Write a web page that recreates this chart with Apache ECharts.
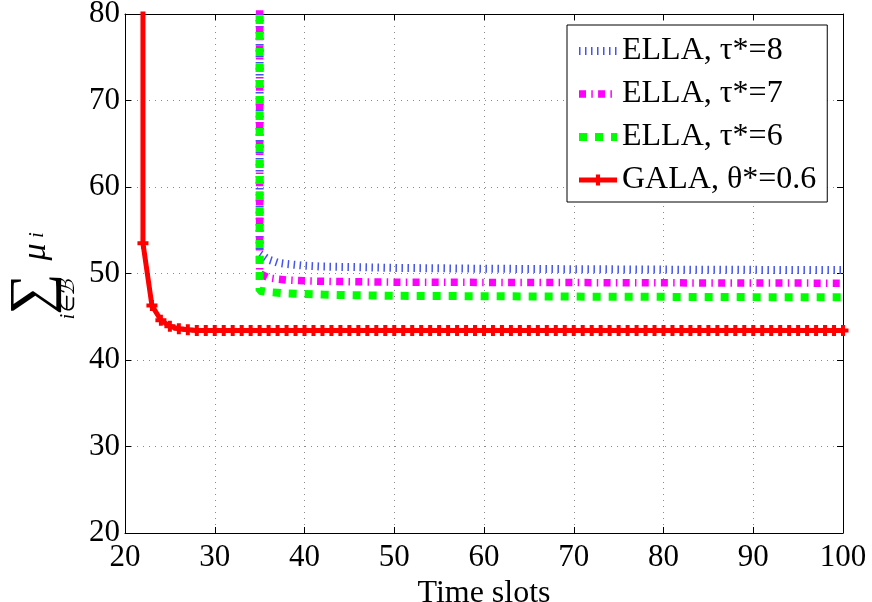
<!DOCTYPE html>
<html>
<head>
<meta charset="utf-8">
<script src="https://cdn.jsdelivr.net/npm/echarts@6/dist/echarts.min.js"></script>
<style>
  html, body { margin: 0; padding: 0; background: #fff; }
  #chart { width: 872px; height: 602px; }
</style>
</head>
<body>
<div id="chart"></div>
<script>
// ---------- data ----------
const xTicks = [20, 30, 40, 50, 60, 70, 80, 90, 100];
const yTicks = [20, 30, 40, 50, 60, 70, 80];

const ellaX = [35, 35, 36, 37, 38, 40, 42, 45, 50, 60, 70, 80, 90, 100];
const ellaTau8 = [200, 52.3, 51.6, 51.25, 51.1, 50.9, 50.8, 50.75, 50.65, 50.55, 50.5, 50.45, 50.42, 50.4];
const ellaTau7 = [200, 50.0, 49.5, 49.35, 49.25, 49.15, 49.1, 49.05, 49.0, 48.97, 48.95, 48.92, 48.9, 48.88];
const ellaTau6 = [200, 48.0, 47.85, 47.78, 47.7, 47.62, 47.56, 47.5, 47.42, 47.37, 47.33, 47.3, 47.27, 47.25];

const galaX = [22, 22, 23, 24, 25, 26, 27, 28, 29, 30,
  31, 32, 33, 34, 35, 36, 37, 38, 39, 40,
  41, 42, 43, 44, 45, 46, 47, 48, 49, 50,
  51, 52, 53, 54, 55, 56, 57, 58, 59, 60,
  61, 62, 63, 64, 65, 66, 67, 68, 69, 70,
  71, 72, 73, 74, 75, 76, 77, 78, 79, 80,
  81, 82, 83, 84, 85, 86, 87, 88, 89, 90,
  91, 92, 93, 94, 95, 96, 97, 98, 99, 100];
const galaY = [200, 53.5, 46.3, 44.6, 43.9, 43.6, 43.5, 43.42, 43.4, 43.4,
  43.4, 43.4, 43.4, 43.4, 43.4, 43.4, 43.4, 43.4, 43.4, 43.4,
  43.4, 43.4, 43.4, 43.4, 43.4, 43.4, 43.4, 43.4, 43.4, 43.4,
  43.4, 43.4, 43.4, 43.4, 43.4, 43.4, 43.4, 43.4, 43.4, 43.4,
  43.4, 43.4, 43.4, 43.4, 43.4, 43.4, 43.4, 43.4, 43.4, 43.4,
  43.4, 43.4, 43.4, 43.4, 43.4, 43.4, 43.4, 43.4, 43.4, 43.4,
  43.4, 43.4, 43.4, 43.4, 43.4, 43.4, 43.4, 43.4, 43.4, 43.4,
  43.4, 43.4, 43.4, 43.4, 43.4, 43.4, 43.4, 43.4, 43.4, 43.4];

const seriesNames = ['ELLA, τ*=8', 'ELLA, τ*=7', 'ELLA, τ*=6', 'GALA, θ*=0.6'];
const xName = 'Time slots';

// ---------- helpers ----------
function pairs(xs, ys) { return xs.map((x, i) => [x, ys[i]]); }

const SERIF = 'Liberation Serif';
const plusPath = 'path://M3.5,0h4v3.5h3.5v4h-3.5v3.5h-4v-3.5h-3.5v-4h3.5z';
const tickRich = { t: { fontFamily: SERIF, fontSize: 31, color: '#000' } };
const tickFmt = v => '{t|' + v + '}';

const chart = echarts.init(document.getElementById('chart'), null, { renderer: 'canvas' });

const baseX = {
  type: 'value', min: xTicks[0], max: xTicks[xTicks.length - 1], interval: 10
};
const baseY = {
  type: 'value', min: yTicks[0], max: yTicks[yTicks.length - 1], interval: 10
};

const option = {
  animation: false,
  backgroundColor: '#ffffff',
  textStyle: { fontFamily: SERIF },
  grid: { left: 125, right: 29, top: 14, bottom: 69, containLabel: false, outerBoundsMode: 'none' },
  xAxis: [
    Object.assign({}, baseX, {
      position: 'bottom',
      name: xName,
      nameLocation: 'middle',
      nameGap: 31,
      nameTextStyle: { fontFamily: SERIF, fontSize: 32, color: '#000' },
      axisLine: { show: true, onZero: false, lineStyle: { color: '#000', width: 1 } },
      axisTick: { show: true, inside: true, length: 6, lineStyle: { color: '#000' } },
      axisLabel: { fontFamily: SERIF, fontSize: 31, color: '#000', margin: 9, formatter: tickFmt, rich: tickRich },
      splitLine: { show: true, lineStyle: { color: '#8a8a8a', width: 1, type: [1, 5] } }
    }),
    Object.assign({}, baseX, {
      position: 'top',
      axisLine: { show: true, onZero: false, lineStyle: { color: '#000', width: 1 } },
      axisTick: { show: true, inside: true, length: 6, lineStyle: { color: '#000' } },
      axisLabel: { show: false },
      splitLine: { show: false }
    })
  ],
  yAxis: [
    Object.assign({}, baseY, {
      position: 'left',
      axisLine: { show: true, onZero: false, lineStyle: { color: '#000', width: 1 } },
      axisTick: { show: true, inside: true, length: 6, lineStyle: { color: '#000' } },
      axisLabel: { fontFamily: SERIF, fontSize: 31, color: '#000', margin: 5, formatter: tickFmt, rich: tickRich },
      splitLine: { show: true, lineStyle: { color: '#8a8a8a', width: 1, type: [1, 5] } }
    }),
    Object.assign({}, baseY, {
      position: 'right',
      axisLine: { show: true, onZero: false, lineStyle: { color: '#000', width: 1 } },
      axisTick: { show: true, inside: true, length: 6, lineStyle: { color: '#000' } },
      axisLabel: { show: false },
      splitLine: { show: false }
    })
  ],
  legend: {
    show: true,
    orient: 'vertical',
    left: 567,
    top: 25,
    padding: [8, 11, 4, 8],
    itemGap: 7,
    itemWidth: 38,
    itemHeight: 14,
    backgroundColor: '#fff',
    borderColor: '#000',
    borderWidth: 1,
    borderRadius: 0,
    textStyle: { fontFamily: SERIF, fontSize: 32, color: '#000', lineHeight: 36 },
    lineStyle: { width: 'inherit' },
    data: [
      { name: seriesNames[0], itemStyle: { opacity: 0 } },
      { name: seriesNames[1], itemStyle: { opacity: 0 } },
      { name: seriesNames[2], itemStyle: { opacity: 0 } },
      { name: seriesNames[3] }
    ]
  },
  series: [
    {
      name: seriesNames[0], type: 'line', xAxisIndex: 0, yAxisIndex: 0,
      data: pairs(ellaX, ellaTau8), symbol: 'none', smooth: false,
      lineStyle: { color: '#4555ec', width: 8, type: [1.5, 4.5], cap: 'butt' },
      itemStyle: { color: '#4555ec' }, z: 2
    },
    {
      name: seriesNames[1], type: 'line', xAxisIndex: 0, yAxisIndex: 0,
      data: pairs(ellaX, ellaTau7), symbol: 'none', smooth: false,
      lineStyle: { color: '#ff00ff', width: 7.5, type: [7, 5.3, 1.5, 5.3], cap: 'butt' },
      itemStyle: { color: '#ff00ff' }, z: 3
    },
    {
      name: seriesNames[2], type: 'line', xAxisIndex: 0, yAxisIndex: 0,
      data: pairs(ellaX, ellaTau6), symbol: 'none', smooth: false,
      lineStyle: { color: '#00ff00', width: 8, type: [8, 8], cap: 'butt' },
      itemStyle: { color: '#00ff00' }, z: 4
    },
    {
      name: seriesNames[3], type: 'line', xAxisIndex: 0, yAxisIndex: 0,
      data: pairs(galaX, galaY), symbol: plusPath, symbolSize: 11,
      showSymbol: true, showAllSymbol: true, smooth: false,
      lineStyle: { color: '#ff0000', width: 5, type: 'solid' },
      itemStyle: { color: '#ff0000', borderWidth: 0 }, z: 5
    }
  ],
  graphic: [
    { type: 'text', x: 34, y: 294, rotation: Math.PI / 2, silent: true,
      style: { text: '∑', fontFamily: SERIF, fontSize: 58, fill: '#000',
               align: 'center', verticalAlign: 'middle', textAlign: 'center', textVerticalAlign: 'middle' } },
    { type: 'text', x: 68, y: 299, rotation: Math.PI / 2, silent: true,
      style: { text: 'i∈ℬ', fontFamily: SERIF, fontSize: 21, fontStyle: 'italic', fill: '#000',
               align: 'center', verticalAlign: 'middle', textAlign: 'center', textVerticalAlign: 'middle' } },
    { type: 'text', x: 36, y: 252, rotation: Math.PI / 2, silent: true,
      style: { text: 'μ', fontFamily: SERIF, fontSize: 34, fontStyle: 'italic', fill: '#000',
               align: 'center', verticalAlign: 'middle', textAlign: 'center', textVerticalAlign: 'middle' } },
    { type: 'text', x: 37, y: 235, rotation: Math.PI / 2, silent: true,
      style: { text: 'i', fontFamily: SERIF, fontSize: 21, fontStyle: 'italic', fill: '#000',
               align: 'center', verticalAlign: 'middle', textAlign: 'center', textVerticalAlign: 'middle' } }
  ]
};

chart.setOption(option);
</script>
</body>
</html>
